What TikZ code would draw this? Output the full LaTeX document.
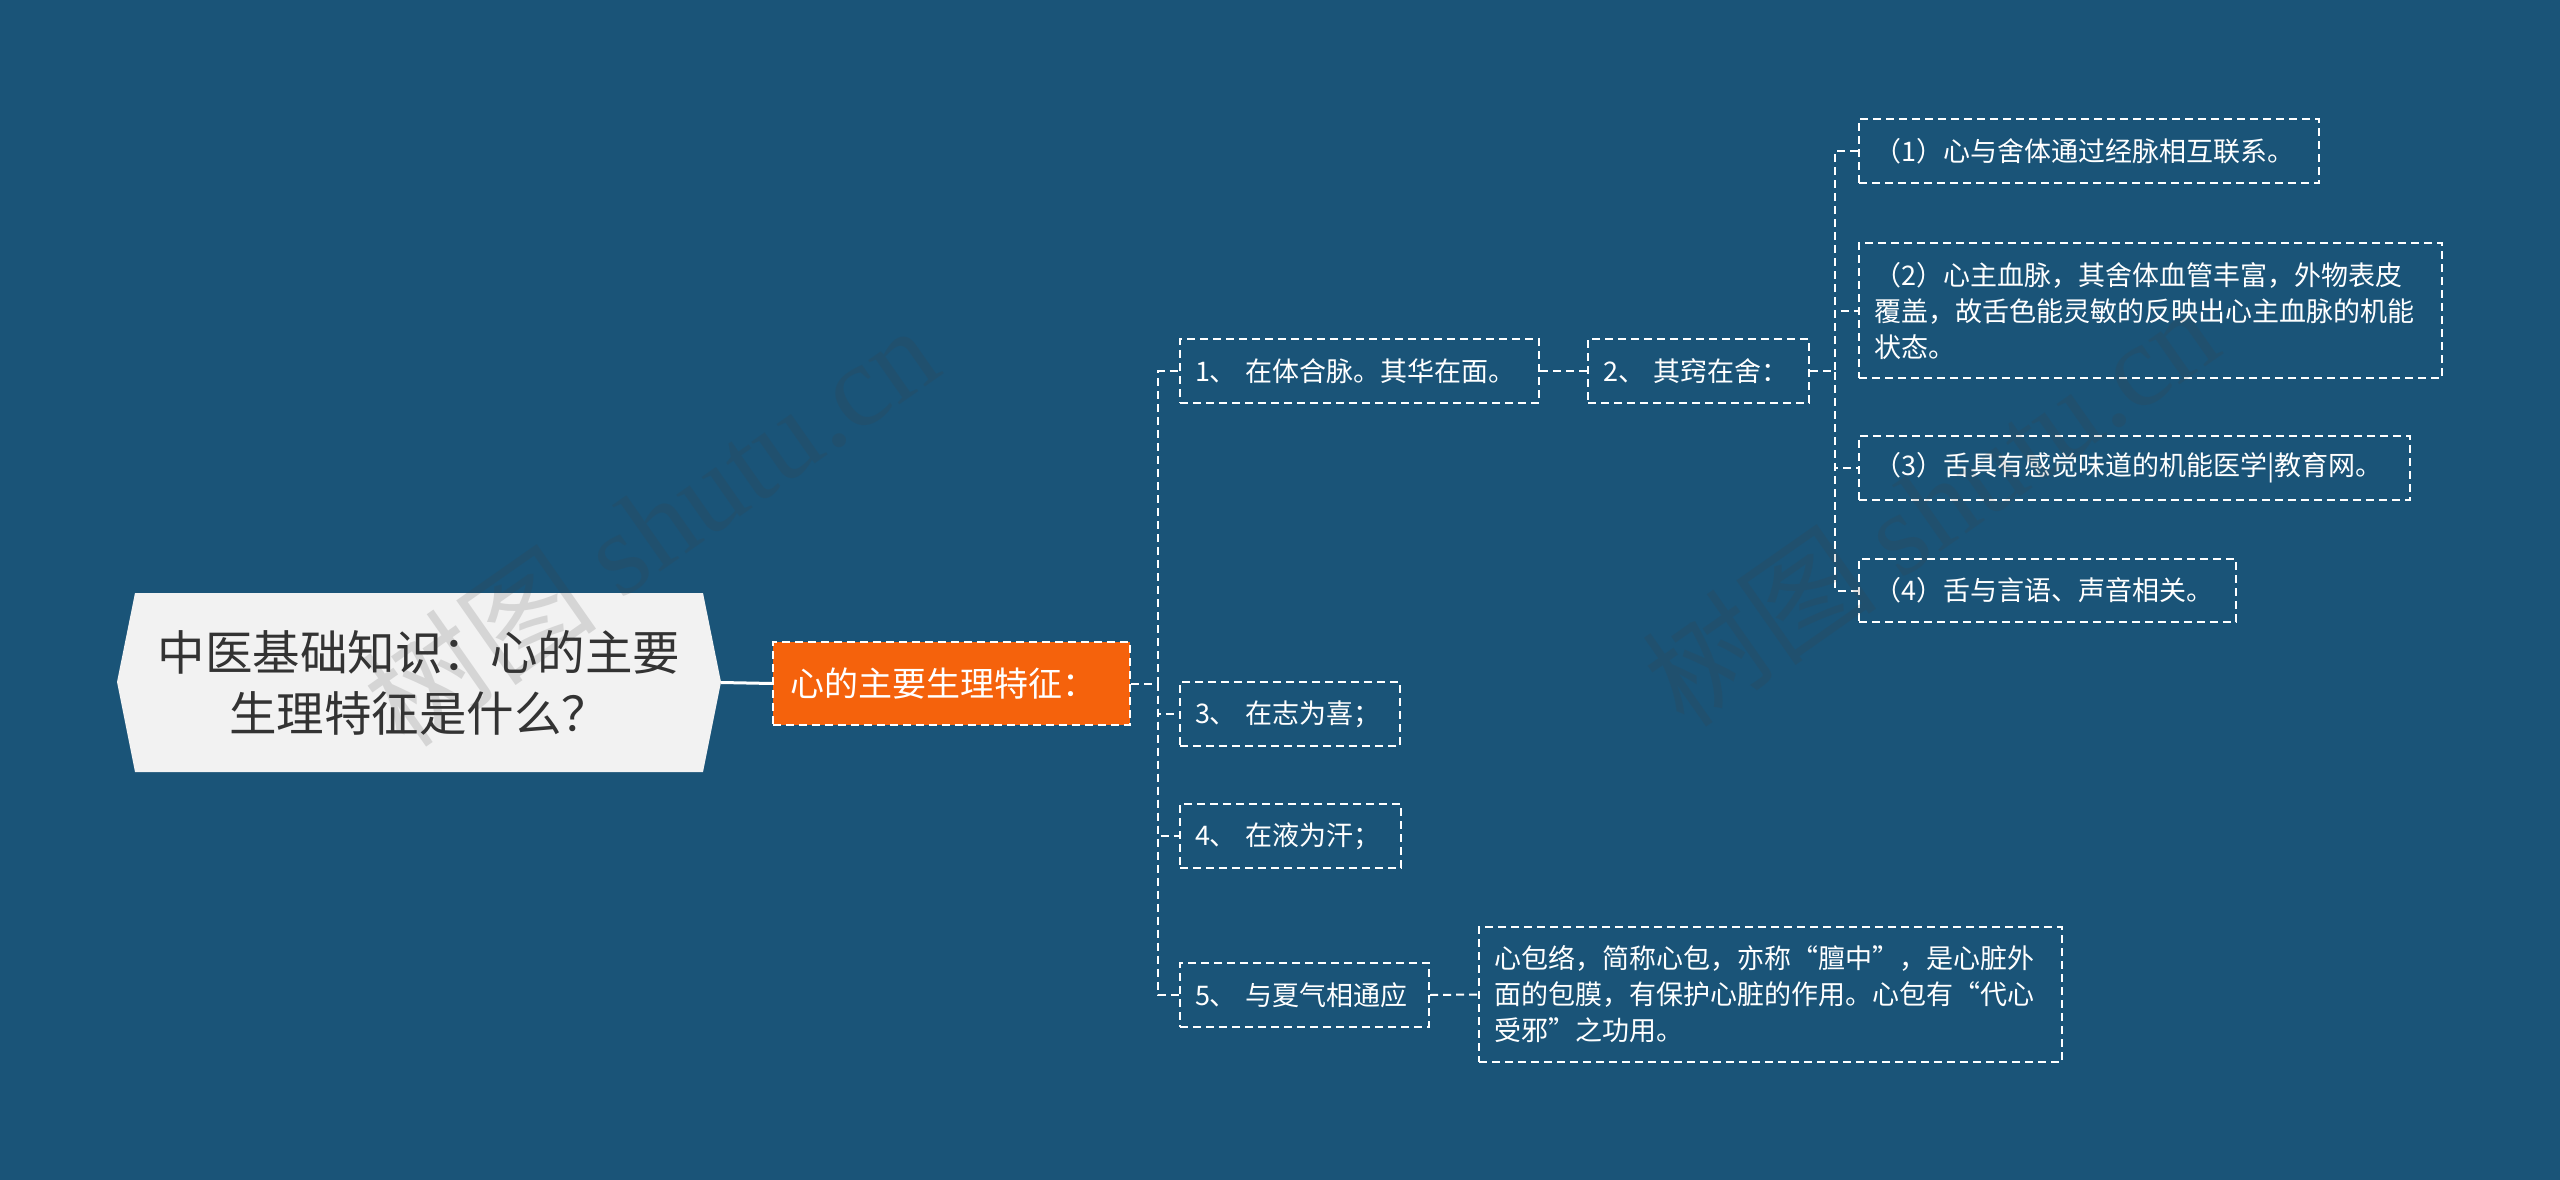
\documentclass[tikz,border=0pt]{standalone}
\usepackage{fontspec}
\setmainfont{Noto Sans CJK SC}
\newfontfamily\cjk{Noto Sans CJK SC}
\newfontfamily\wmfont{Liberation Serif}
\definecolor{bg}{HTML}{1A5478}
\definecolor{orng}{HTML}{F5620C}
\definecolor{rootfill}{HTML}{F2F2F2}
\definecolor{roottext}{HTML}{333333}
\definecolor{wmcol}{HTML}{404040}
\tikzset{
  dashline/.style={draw=white, line width=2pt, dash pattern=on 8pt off 5pt},
  leaf/.style={dashline, text=white, font=\fontsize{27}{36}\selectfont, align=left,
    inner xsep=15pt, inner ysep=0pt, anchor=north west, minimum height=64pt},
  hubbox/.style={dashline, fill=orng, text=white, font=\fontsize{34}{40}\selectfont,
    align=left, inner xsep=17pt, inner ysep=0pt, anchor=north west, text width=323pt,
    minimum height=83pt},
  rootbox/.style={text=roottext, font=\fontsize{47.5}{61}\selectfont, align=center,
    minimum width=568pt, minimum height=179pt, inner sep=0pt},
  conn/.style={dashline},
  wm/.style={text=wmcol, opacity=0.16, font=\fontsize{118}{120}\selectfont}
}
\begin{document}
\begin{tikzpicture}[x=1pt,y=-1pt]
\fill[bg] (0,0) rectangle (2560,1180);
\useasboundingbox (0,0) rectangle (2560,1180);
% root
\fill[rootfill] (117,682) -- (135,593) -- (703,593) -- (721,682) -- (703,772) -- (135,772) -- cycle;
\node[rootbox] (root) at (419,682.5) {中医基础知识：心的主要\\生理特征是什么？};
% hub
\node[hubbox] (hub) at (772,641) {心的主要生理特征：};
% level 1
\node[leaf, text width=329pt] (c1) at (1179,338) {1、 在体合脉。其华在面。};
\node[leaf, text width=191pt] (c2) at (1587,338) {2、 其窍在舍：};
\node[leaf, text width=190pt] (c3) at (1179,681) {3、 在志为喜；};
\node[leaf, text width=191pt] (c4) at (1179,803) {4、 在液为汗；};
\node[leaf, text width=219pt] (c5) at (1179,962) {5、 与夏气相通应};
\node[leaf, text width=553pt, minimum height=135pt] (det) at (1478,926)
  {心包络，简称心包，亦称“膻中”，是心脏外\\面的包膜，有保护心脏的作用。心包有“代心\\受邪”之功用。};
% level 3
\node[leaf, text width=430pt] (g1) at (1858,118) {（1）心与舍体通过经脉相互联系。};
\node[leaf, text width=553pt, minimum height=135pt] (g2) at (1858,242)
  {（2）心主血脉，其舍体血管丰富，外物表皮\\覆盖，故舌色能灵敏的反映出心主血脉的机能\\状态。};
\node[leaf, text width=521pt] (g3) at (1858,435) {（3）舌具有感觉味道的机能医学|教育网。};
\node[leaf, text width=347pt, minimum height=63pt] (g4) at (1858,558) {（4）舌与言语、声音相关。};
% connectors
\draw[white, line width=3pt] ([xshift=18pt]root.east) -- (hub.west);
\foreach \c in {c1,c3,c4,c5}{
  \draw[conn] (hub.east) -- ++(27,0) |- (\c.west);
}
\draw[conn] (c1.east) -- (c2.west);
\foreach \g in {g1,g2,g3,g4}{
  \draw[conn] (c2.east) -- ++(25,0) |- (\g.west);
}
\draw[conn] (c5.east) -- (det.west);
% watermark
\node[wm, rotate=35] (wm1) at (650,525) {\cjk 树图 \wmfont shutu.cn};
\node[wm, rotate=35] (wm2) at (1930,505) {\cjk 树图 \wmfont shutu.cn};
\end{tikzpicture}
\end{document}
